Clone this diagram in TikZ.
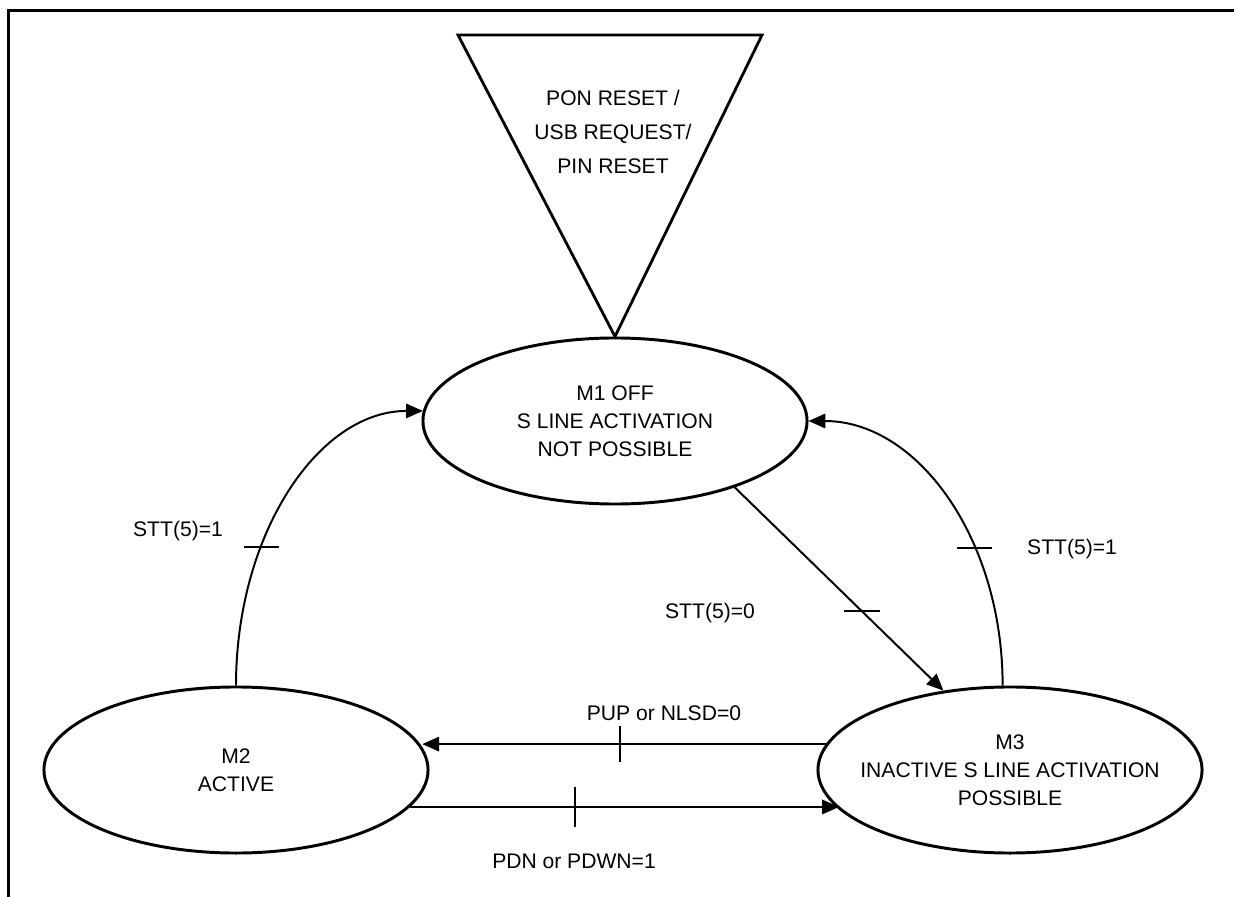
\documentclass[tikz,border=0pt]{standalone}
\usepackage{fontspec}
\setmainfont{Liberation Sans}
\usetikzlibrary{shapes.geometric,arrows.meta,positioning}
\tikzset{
  mode/.style={ellipse, draw=black, line width=2.1pt, minimum width=9.6cm, minimum height=4.15cm, inner xsep=-0.6cm, inner ysep=0pt, align=center, font=\fontsize{15}{19.9}\selectfont},
  trans/.style={line width=1.4pt, -{Triangle[length=0.42cm,width=0.36cm]}},
  lb/.style={font=\fontsize{15}{18}\selectfont, inner sep=0pt},
  tk/.style={line width=1.4pt}
}
\begin{document}
\begin{tikzpicture}[x=0.025cm,y=0.025cm]
	\useasboundingbox (0,0) rectangle (1234,896);
	\draw[line width=2.1pt] (8.5,-5) -- (8.5,885.5) -- (1240,885.5);
	\node[mode] (m1) at (615,475) {M1 OFF\\S LINE ACTIVATION\\NOT POSSIBLE};
	\node[mode] (m2) at (236,126) {M2\\ACTIVE};
	\node[mode] (m3) at (1010,126) {M3\\INACTIVE S LINE ACTIVATION\\POSSIBLE};
	%
	\coordinate (rl) at (458,861);
	\coordinate (rr) at (762,861);
	\draw[line width=2pt] (rl) -- (rr) -- (m1.north) -- cycle;
	\node[lb, align=center, font=\fontsize{15}{24.1}\selectfont] (rst) at (613,764) {PON RESET /\\USB REQUEST/\\PIN RESET};
	%
	\draw[trans] (m2.north) .. controls +(0,151) and +(-105,0) .. (m1.177) coordinate[pos=0.335] (tka);
	\draw[trans] (m3.95) .. controls +(0,147) and +(109,0) .. (m1.east) coordinate[pos=0.345] (tkb);
	\draw[trans] (m1.-29) -- (m3.130) coordinate[pos=0.61] (tkc);
	\draw[trans] (m3.172.6) -- (m2.7.4 |- m3.172.6) coordinate[pos=0.51] (tkd);
	\draw[trans] (m2.-12.6) -- (m3.-167.4 |- m2.-12.6) coordinate[pos=0.384] (tke);
	%
	\draw[tk] ([xshift=-0.44cm]tka) -- ([xshift=0.44cm]tka);
	\draw[tk] ([xshift=-0.44cm]tkb) -- ([xshift=0.44cm]tkb);
	\draw[tk] ([xshift=-0.44cm]tkc) -- ([xshift=0.44cm]tkc);
	\draw[tk] ([yshift=-0.45cm]tkd) -- ([yshift=0.45cm]tkd);
	\draw[tk] ([yshift=-0.5cm]tke) -- ([yshift=0.5cm]tke);
	%
	\node[lb] (la) at (178,365) {STT(5)=1};
	\node[lb] (lr) at (1072,347) {STT(5)=1};
	\node[lb] (l0) at (710,283) {STT(5)=0};
	\node[lb] (lup) at (664,183) {PUP or NLSD=0};
	\node[lb] (ldn) at (574,35) {PDN or PDWN=1};
\end{tikzpicture}
\end{document}
